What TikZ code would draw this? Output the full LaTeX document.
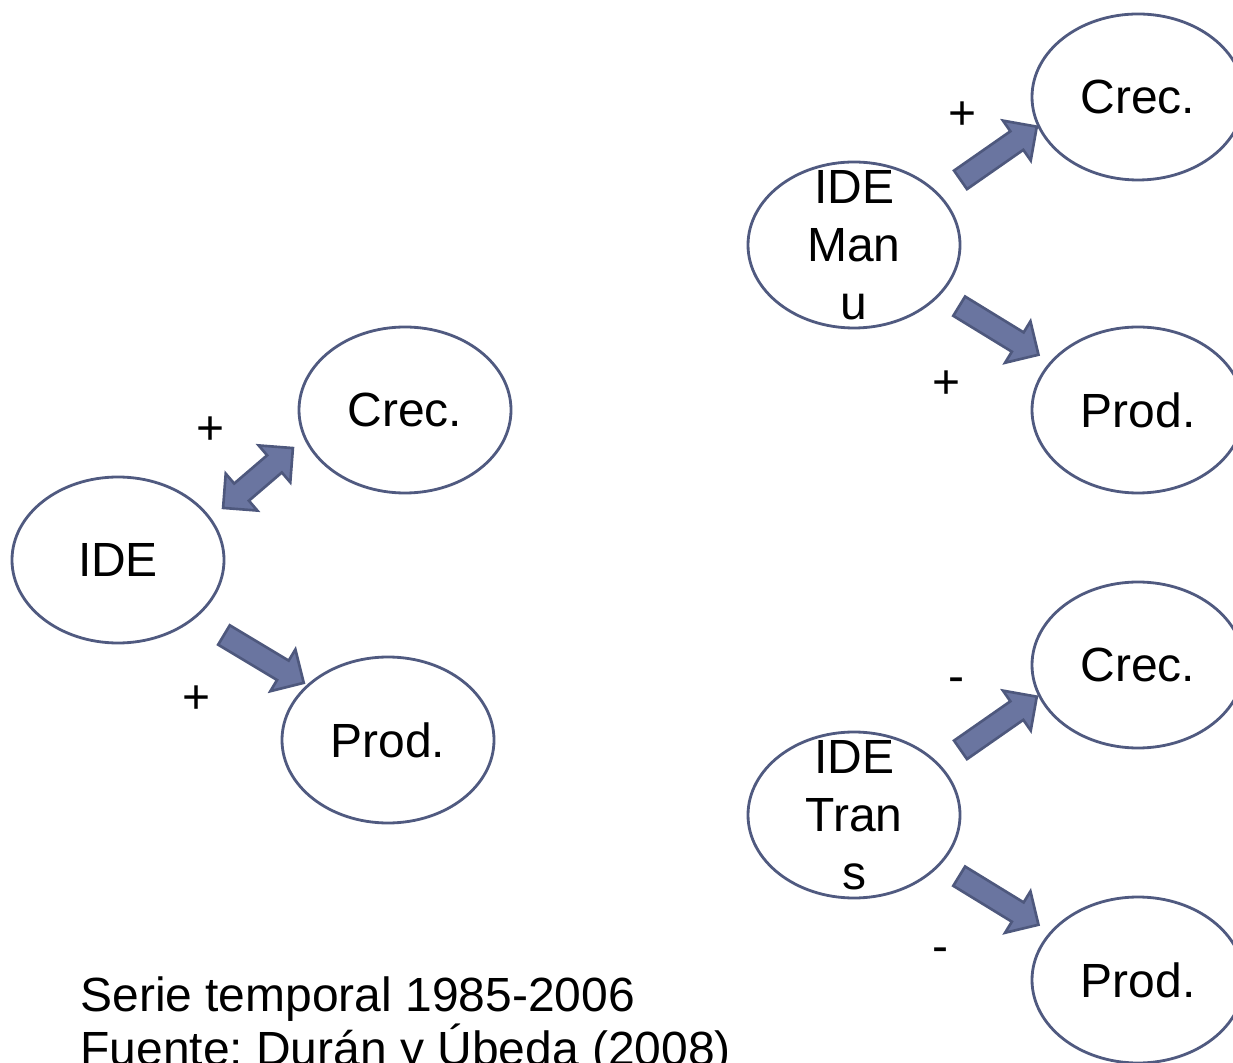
\documentclass[tikz,border=0pt]{standalone}
\usepackage{fontspec}
\setmainfont{Liberation Sans}
\frenchspacing
\usetikzlibrary{shapes.geometric,shapes.arrows}
\definecolor{rim}{RGB}{80,90,128}
\definecolor{arrfill}{RGB}{106,117,160}
\definecolor{arrrim}{RGB}{78,88,125}

\begin{document}
\begin{tikzpicture}
  \tikzset{vertex/.style = {ellipse,draw=rim,line width=1.6pt,minimum width=4.24cm,minimum height=3.32cm,inner sep=0pt,font=\fontsize{27.3}{33}\selectfont}}
  \tikzset{stacked/.style = {label={[align=center,inner sep=0pt,font=\fontsize{27.3}{33}\selectfont]center:#1}}}
  \tikzset{bigarr/.style = {single arrow,draw=arrrim,fill=arrfill,line width=1.5pt,inner sep=0.2cm,single arrow head extend=0.26cm,minimum height=1.86cm,sloped}}
  \tikzset{bothways/.style = {double arrow,draw=arrrim,fill=arrfill,line width=1.5pt,inner sep=0.2cm,double arrow head extend=0.26cm,minimum height=1.84cm,sloped}}
  \tikzset{sign/.style = {font=\fontsize{27.3}{33}\selectfont,inner sep=0pt}}

\useasboundingbox (0,0) rectangle (24.66,21.24);

\node[vertex] (ide)  at (2.36,10.04) {IDE};
\node[vertex] (crec)  at (8.10,13.04) {Crec.};
\node[vertex] (prod)  at (7.76,6.44) {Prod.};

\node[vertex,stacked={IDE\\Man\\u}] (ideman)  at (17.08,16.34) {};
\node[vertex] (crecm)  at (22.76,19.30) {Crec.};
\node[vertex] (prodm)  at (22.76,13.04) {Prod.};

\node[vertex,stacked={IDE\\Tran\\s}] (idetr)  at (17.08,4.94) {};
\node[vertex] (crect)  at (22.76,7.94) {Crec.};
\node[vertex] (prodt)  at (22.76,1.64) {Prod.};

% arrow ends
\coordinate (a1) at (4.46,11.08);
\coordinate (b1) at (5.86,12.28);
\coordinate (a2) at (4.38,8.60);
\coordinate (b2) at (5.98,7.64);
\coordinate (a3) at (19.12,17.58);
\coordinate (b3) at (20.64,18.64);
\coordinate (a4) at (19.08,15.18);
\coordinate (b4) at (20.68,14.20);
\coordinate (a5) at (19.12,6.18);
\coordinate (b5) at (20.64,7.24);
\coordinate (a6) at (19.08,3.78);
\coordinate (b6) at (20.68,2.80);

    \path (a1) -- node[bothways]{} (b1);
    \path (a2) -- node[bigarr]{} (b2);
    \path (a3) -- node[bigarr]{} (b3);
    \path (a4) -- node[bigarr]{} (b4);
    \path (a5) -- node[bigarr]{} (b5);
    \path (a6) -- node[bigarr]{} (b6);

\node[sign] (s1) at (4.22,12.62) {+};
\node[sign] (s2) at (3.94,7.24) {+};
\node[sign] (s3) at (19.24,18.92) {+};
\node[sign] (s4) at (18.92,13.54) {+};
\node[sign] (s5) at (19.12,7.54) {-};
\node[sign] (s6) at (18.80,2.14) {-};

\node[anchor=base west,align=left,inner sep=0pt,font=\fontsize{27.3}{28.45}\selectfont] (src) at (1.6,-0.06) {Serie temporal 1985-2006\\Fuente: Durán y Úbeda (2008)};

\end{tikzpicture}
\end{document}
